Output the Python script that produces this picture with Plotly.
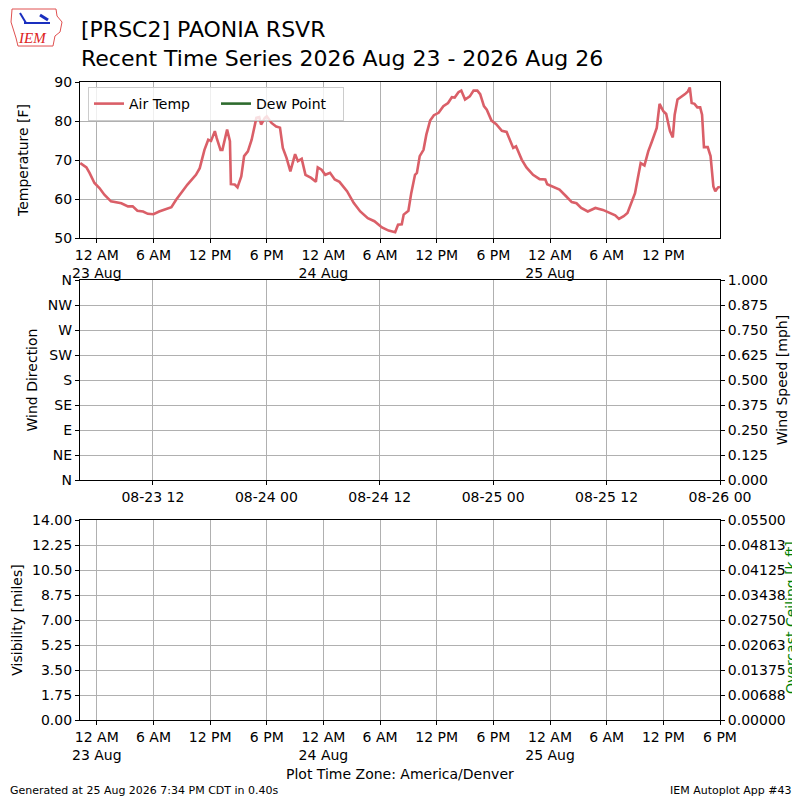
import pandas as pd
import plotly.graph_objects as go

# hours after 2026-08-23 00:00 (America/Denver), air temp [F]
T0 = pd.Timestamp("2026-08-23 00:00")
HOURS = [-1.75, -1.1, -0.77, -0.25, 0.28, 0.8, 1.5, 2.2, 2.6, 3.3, 3.8, 4.3, 4.9, 5.4, 6.0, 6.6, 7.3, 7.9,
         8.4, 8.9, 9.6, 10.5, 10.9, 11.4, 11.8, 12.1, 12.5, 12.7, 13.1, 13.3, 13.8, 14.1, 14.2, 14.6, 14.9,
         15.3, 15.6, 16.0, 16.4, 16.9, 17.2, 17.4, 17.8, 18.0, 18.5, 19.0, 19.4, 19.7, 20.1, 20.5, 21.0,
         21.3, 21.7, 22.1, 22.7, 23.2, 23.4, 23.8, 24.2, 24.7, 25.2, 25.7, 26.5, 27.2, 27.9, 28.7, 29.4,
         30.2, 30.9, 31.6, 31.9, 32.3, 32.5, 33.0, 33.3, 33.7, 33.9, 34.2, 34.6, 34.9, 35.3, 35.7, 36.2,
         36.7, 37.2, 37.6, 37.9, 38.3, 38.6, 39.0, 39.5, 39.9, 40.3, 40.6, 41.0, 41.3, 41.8, 42.3, 42.9,
         43.4, 43.6, 44.1, 44.4, 45.0, 45.5, 46.2, 46.9, 47.5, 47.7, 48.3, 49.0, 49.7, 50.3, 50.8, 51.3,
         52.0, 52.8, 53.6, 54.4, 54.9, 55.3, 55.8, 56.2, 56.6, 57.0, 57.3, 57.6, 58.0, 58.4, 58.8, 59.3,
         59.6, 60.0, 60.3, 60.7, 61.0, 61.2, 61.5, 61.9, 62.3, 62.6, 62.8, 63.0, 63.3, 63.6, 63.9, 64.1,
         64.3, 64.7, 65.0, 65.3, 65.5, 65.8, 66.0]
TEMP_F = [69.2, 68.1, 66.7, 64.1, 62.8, 61.1, 59.4, 59.0, 58.9, 58.1, 58.1, 57.0, 56.8, 56.2, 56.1, 56.8, 57.3, 57.9,
          59.8, 61.5, 63.7, 66.2, 67.9, 72.6, 75.2, 74.9, 77.4, 75.6, 72.6, 72.6, 77.8, 74.8, 63.8, 63.7, 63.0,
          65.8, 71.0, 72.2, 75.2, 80.8, 81.0, 79.1, 80.8, 81.2, 79.5, 78.6, 78.3, 73.1, 70.5, 67.1, 71.5,
          69.7, 70.3, 66.2, 65.4, 64.4, 68.1, 67.5, 66.2, 66.7, 65.0, 64.4, 62.0, 59.0, 56.8, 55.1, 54.3,
          52.7, 51.9, 51.5, 53.4, 53.5, 56.0, 57.0, 61.5, 66.2, 66.7, 71.0, 72.6, 76.5, 80.1, 81.5, 82.1,
          83.8, 84.6, 86.1, 86.0, 87.4, 87.8, 85.5, 86.3, 87.8, 87.8, 86.9, 83.8, 82.9, 80.1, 79.2, 77.5,
          77.2, 76.1, 73.1, 73.5, 70.1, 68.1, 66.2, 65.1, 65.0, 63.8, 63.2, 62.4, 60.7, 59.2, 58.9, 57.7,
          56.8, 57.7, 57.2, 56.4, 55.8, 54.9, 55.6, 56.4, 59.0, 61.5, 65.4, 69.2, 68.6, 72.2, 74.8, 78.2,
          84.4, 82.5, 81.8, 77.4, 75.8, 81.6, 85.5, 86.1, 86.9, 87.6, 88.6, 84.6, 84.4, 83.5, 83.5, 81.6,
          73.3, 73.3, 71.0, 63.2, 62.0, 63.0, 63.1]

DIR_LABELS = ["N", "NE", "E", "SE", "S", "SW", "W", "NW", "N"]
SPEED_TICKS = [0.0, 0.125, 0.25, 0.375, 0.5, 0.625, 0.75, 0.875, 1.0]
VIS_TICKS = [0.0, 1.75, 3.5, 5.25, 7.0, 8.75, 10.5, 12.25, 14.0]
CEIL_TICKS = [0.0, 0.006875, 0.01375, 0.020625, 0.0275, 0.034375, 0.04125, 0.048125, 0.055]
CEIL_LABELS = ["0.00000", "0.00688", "0.01375", "0.02063", "0.02750", "0.03438", "0.04125", "0.04813", "0.05500"]

times = [T0 + pd.Timedelta(hours=h) for h in HOURS]
x_lo = T0 - pd.Timedelta(hours=1.78)
x_hi = pd.Timestamp("2026-08-25 18:00")
mid_lo = pd.Timestamp("2026-08-23 04:17")
mid_hi = pd.Timestamp("2026-08-26 00:00")

def hr_label(t):
    h = t.hour
    s = "12 AM" if h == 0 else ("12 PM" if h == 12 else (f"{h} AM" if h < 12 else f"{h-12} PM"))
    if h == 0:
        s += "<br>" + t.strftime("%-d %b")
    return s

bot_ticks = list(pd.date_range("2026-08-23 00:00", "2026-08-25 18:00", freq="6h"))
top_ticks = bot_ticks[:-1]
mid_ticks = list(pd.date_range("2026-08-23 12:00", "2026-08-26 00:00", freq="12h"))

FONT = "DejaVu Sans"
RED = "#da5f68"
GRID = "#b0b0b0"
FS = 14

# page pixel -> paper coords (plot area is page x 80..720, y 82..720; page has an 8px body offset)
def px(x): return (x - 80) / 640
def py(y): return (720 - y) / 638

fig = go.Figure()
fig.add_trace(go.Scatter(x=times, y=TEMP_F, mode="lines", name="Air Temp",
                         line=dict(color=RED, width=2.6), xaxis="x", yaxis="y"))
fig.add_trace(go.Scatter(x=[times[0]], y=[None], mode="lines", name="Dew Point",
                         line=dict(color="#2e6b2e", width=2.6), xaxis="x", yaxis="y"))

axbase = dict(showline=True, linecolor="black", linewidth=1.2, mirror=True, ticks="outside",
              ticklen=4, tickcolor="black", gridcolor=GRID, gridwidth=1, zeroline=False, automargin=False)
rbase = dict(showgrid=False, ticks="outside", ticklen=4, tickcolor="black", zeroline=False, automargin=False)
tfont = dict(size=FS, family=FONT)

fig.update_layout(
    width=800, height=800, template="plotly_white", showlegend=True,
    margin=dict(l=72, r=88, t=74, b=88, autoexpand=False),
    plot_bgcolor="white", paper_bgcolor="white",
    font=dict(family=FONT, size=FS, color="black"),
    xaxis=dict(axbase, domain=[0, 1], anchor="y", range=[x_lo, x_hi],
               tickvals=top_ticks, ticktext=[hr_label(t) for t in top_ticks]),
    yaxis=dict(axbase, domain=[py(238), 1.0], anchor="x", range=[50, 90], dtick=10,
               title=dict(text="Temperature [F]", standoff=22, font=tfont)),
    xaxis2=dict(axbase, domain=[0, 1], anchor="y2", range=[mid_lo, mid_hi],
                tickvals=mid_ticks, ticktext=[t.strftime("%m-%d %H") for t in mid_ticks]),
    yaxis2=dict(axbase, domain=[py(480), py(280)], anchor="x2", range=[0, 360],
                tickvals=[i * 45 for i in range(9)], ticktext=DIR_LABELS,
                title=dict(text="Wind Direction", standoff=6, font=tfont)),
    yaxis3=dict(rbase, overlaying="y2", side="right", anchor="x2", range=[0, 1],
                tickvals=SPEED_TICKS, ticktext=[f"{v:.3f}" for v in SPEED_TICKS],
                title=dict(text="Wind Speed [mph]", standoff=10, font=tfont)),
    xaxis3=dict(axbase, domain=[0, 1], anchor="y4", range=[x_lo, x_hi],
                tickvals=bot_ticks, ticktext=[hr_label(t) for t in bot_ticks]),
    yaxis4=dict(axbase, domain=[0, py(520)], anchor="x3", range=[0, 14],
                tickvals=VIS_TICKS, ticktext=[f"{v:.2f}" for v in VIS_TICKS],
                title=dict(text="Visibility [miles]", standoff=6, font=tfont)),
    yaxis5=dict(rbase, overlaying="y4", side="right", anchor="x3", range=[0, 0.055],
                tickvals=CEIL_TICKS, ticktext=CEIL_LABELS),
    legend=dict(orientation="h", x=px(88), y=py(87), xanchor="left", yanchor="top",
                bgcolor="rgba(255,255,255,0.8)", bordercolor="#cccccc", borderwidth=1,
                font=dict(size=FS), itemwidth=30, entrywidth=82, tracegroupgap=0),
)

# empty traces so the lower axes render
fig.add_trace(go.Scatter(x=[mid_lo], y=[None], xaxis="x2", yaxis="y2", showlegend=False))
fig.add_trace(go.Scatter(x=[mid_lo], y=[None], xaxis="x2", yaxis="y3", showlegend=False))
fig.add_trace(go.Scatter(x=[x_lo], y=[None], xaxis="x3", yaxis="y4", showlegend=False))
fig.add_trace(go.Scatter(x=[x_lo], y=[None], xaxis="x3", yaxis="y5", showlegend=False))

fig.add_annotation(text="[PRSC2] PAONIA RSVR<br>Recent Time Series 2026 Aug 23 - 2026 Aug 26",
                   xref="paper", yref="paper", x=px(79), y=py(15), xanchor="left", yanchor="top",
                   align="left", showarrow=False, font=dict(size=22, family=FONT))

# IEM logo: rough state outline, blue symbol, red italic letters
outline = [(12, 9), (56, 9), (57, 16), (62, 22), (60, 32), (55, 36), (53, 46), (18, 46), (16, 38), (11, 22)]
path = "M " + " L ".join(f"{px(a):.4f},{py(b):.4f}" for a, b in outline) + " Z"
fig.add_shape(type="path", path=path, xref="paper", yref="paper", line=dict(color="#e05050", width=1))
fig.add_shape(type="line", xref="paper", yref="paper", x0=px(24), y0=py(23), x1=px(50), y1=py(23),
              line=dict(color="#1a2fbf", width=2))
fig.add_shape(type="line", xref="paper", yref="paper", x0=px(20), y0=py(13), x1=px(26), y1=py(23),
              line=dict(color="#1a2fbf", width=2))
fig.add_shape(type="line", xref="paper", yref="paper", x0=px(40), y0=py(15), x1=px(48), y1=py(20),
              line=dict(color="#1a2fbf", width=3))
fig.add_annotation(text="<i>IEM</i>", xref="paper", yref="paper", x=px(32), y=py(38),
                   xanchor="center", yanchor="middle", showarrow=False,
                   font=dict(size=15, family="Liberation Serif", color="#d22"))

fig.add_annotation(text="Overcast Ceiling [k ft]", xref="paper", yref="paper", x=px(781), y=py(618),
                   xanchor="left", yanchor="middle", textangle=-90, showarrow=False,
                   font=dict(size=FS, color="green"))
fig.add_annotation(text="Plot Time Zone: America/Denver", xref="paper", yref="paper", x=0.5, y=py(774),
                   xanchor="center", yanchor="middle", showarrow=False, font=dict(size=FS))
fig.add_annotation(text="Generated at 25 Aug 2026 7:34 PM CDT in 0.40s", xref="paper", yref="paper",
                   x=px(8), y=py(790), xanchor="left", yanchor="middle", showarrow=False,
                   font=dict(size=11))
fig.add_annotation(text="IEM Autoplot App #43", xref="paper", yref="paper", x=px(794), y=py(790),
                   xanchor="right", yanchor="middle", showarrow=False, font=dict(size=11))

fig.write_html("out.html")
